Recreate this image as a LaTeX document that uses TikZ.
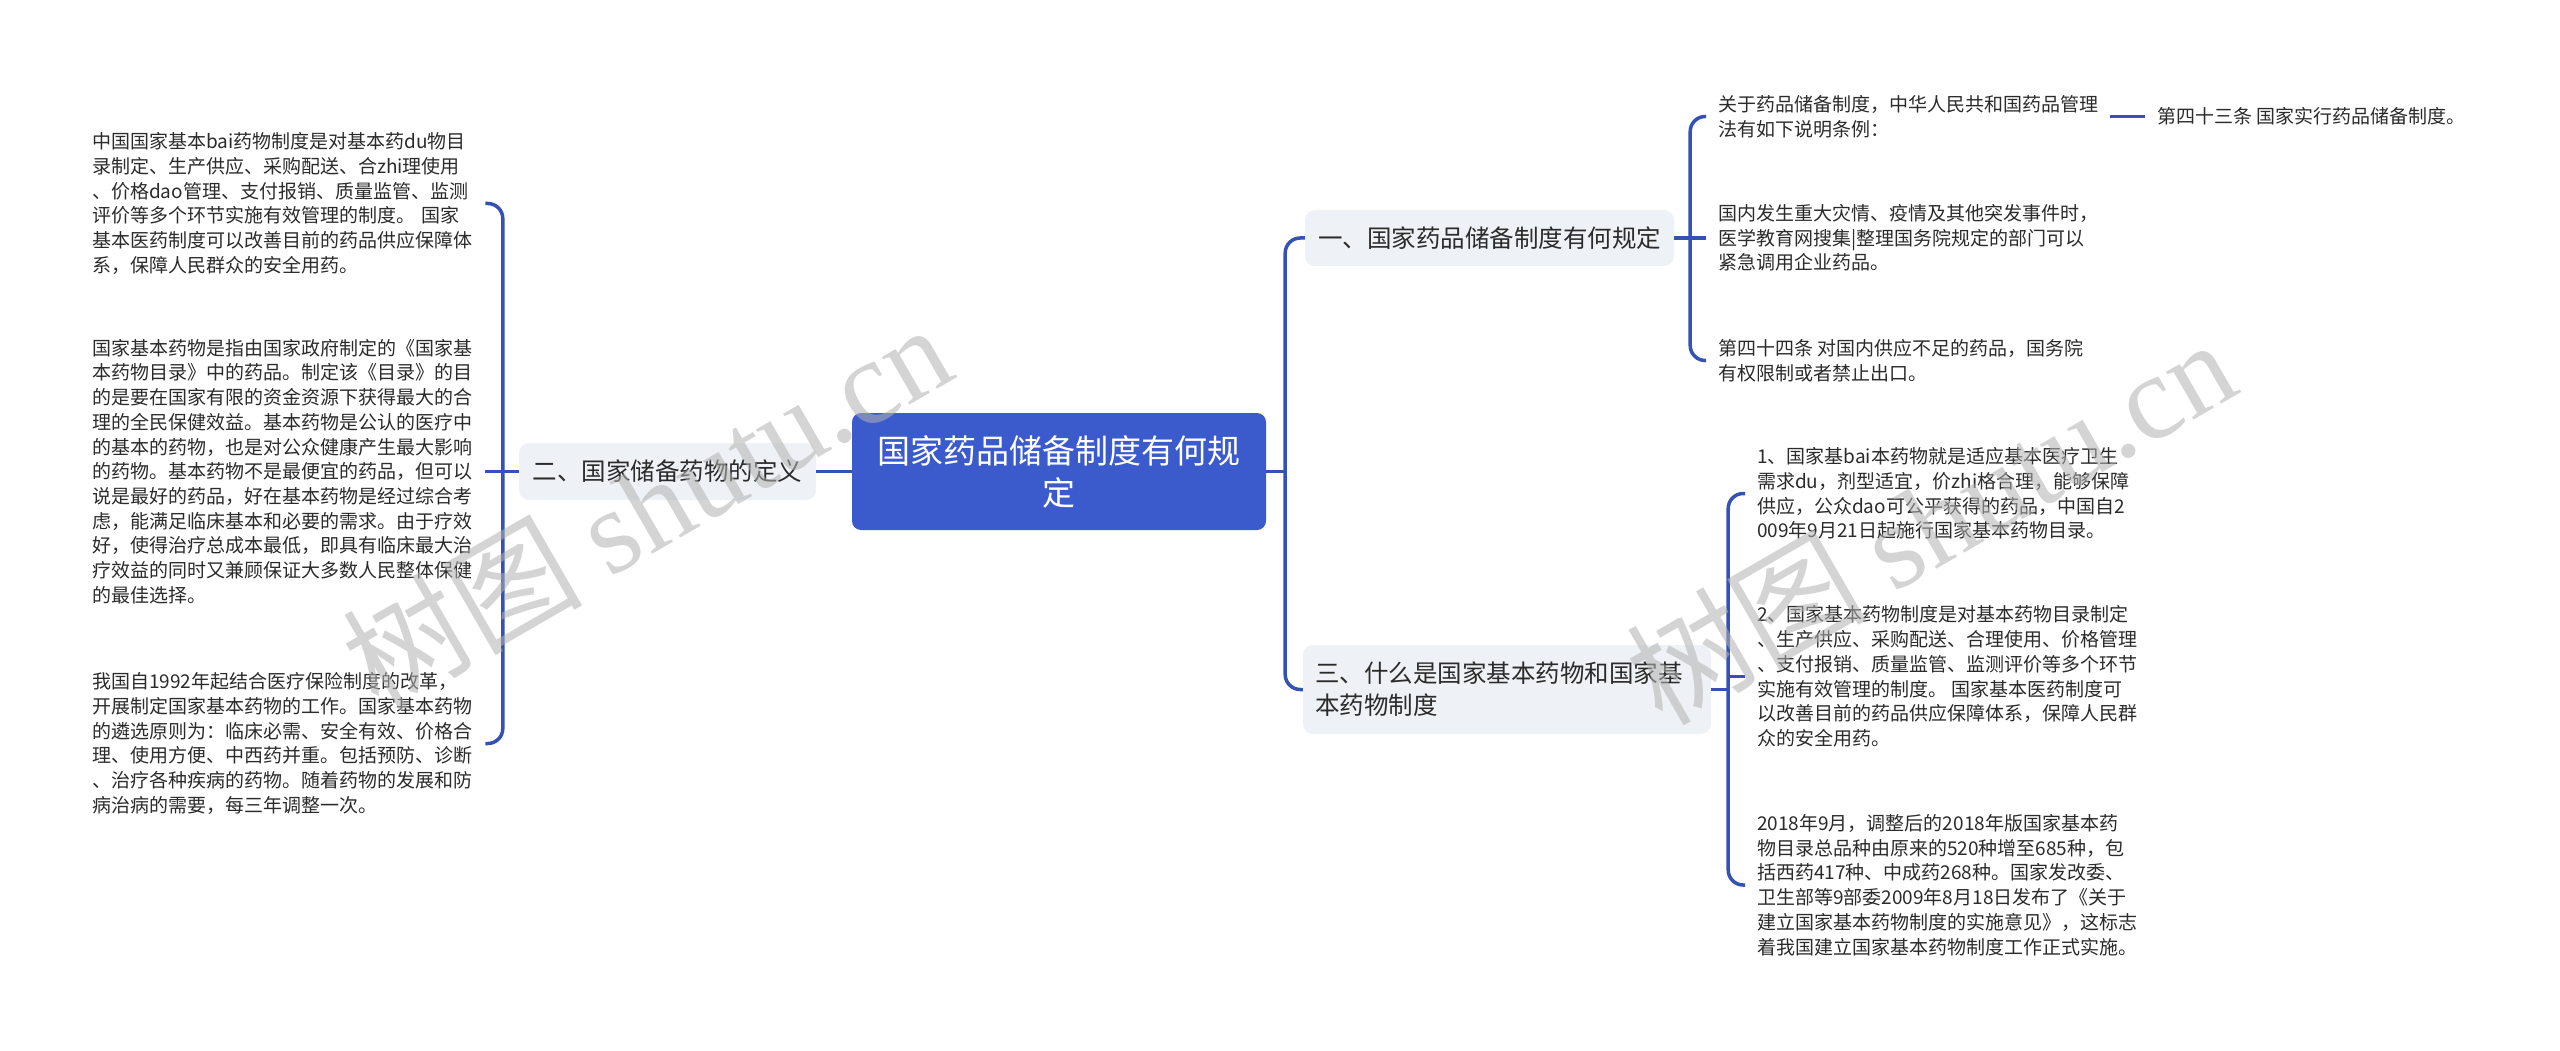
\documentclass[tikz,border=0pt]{standalone}
\usepackage{fontspec}
\setmainfont{Noto Sans CJK SC}
\newfontfamily\wmserif{Liberation Serif}
\definecolor{linec}{HTML}{3352B3}
\definecolor{rootc}{HTML}{3B5BCC}
\definecolor{branchc}{HTML}{EEF1F5}
\definecolor{textc}{HTML}{2B2B2B}
\tikzset{
  conn/.style={draw=linec, line width=3.5pt},
  bracket/.style={conn, rounded corners=15pt},
  rootbox/.style={fill=rootc, draw=none, rounded corners=9pt, text=white,
    font=\fontsize{33}{42}\selectfont, align=center,
    minimum width=414pt, minimum height=117pt, inner sep=0pt},
  branchbox/.style={fill=branchc, draw=none, rounded corners=10pt, text=textc,
    font=\fontsize{24.5}{32}\selectfont, inner sep=0pt},
  leaf/.style={text=textc, font=\fontsize{19}{24.7}\selectfont, align=left,
    inner sep=0pt, anchor=west},
  wmark/.style={text=gray!60, opacity=0.55, rotate=30,
    font=\fontsize{120}{120}\selectfont, inner sep=0pt}
}
\begin{document}
\begin{tikzpicture}[x=1pt,y=-1pt]
\useasboundingbox (0,0) rectangle (2560,1051);
\fill[white] (0,0) rectangle (2560,1051);

% root and branches
\node[rootbox] (root) at (1059,471.5) {国家药品储备制度有何规\\定};
\node[branchbox, minimum width=297pt, minimum height=57pt] (b2) at (667.5,471.5) {二、国家储备药物的定义};
\node[branchbox, minimum width=369pt, minimum height=56pt] (br1) at (1489.5,238) {一、国家药品储备制度有何规定};
\node[branchbox, text width=384pt, inner xsep=12pt, minimum height=89pt, align=left] (br3) at (1507,689.5) {三、什么是国家基本药物和国家基\\本药物制度};

% left leaves
\node[leaf, text width=380pt] (l1) at (92,203.5) {中国国家基本bai药物制度是对基本药du物目\\录制定、生产供应、采购配送、合zhi理使用\\、价格dao管理、支付报销、质量监管、监测\\评价等多个环节实施有效管理的制度。 国家\\基本医药制度可以改善目前的药品供应保障体\\系，保障人民群众的安全用药。};
\node[leaf, text width=380pt] (l2) at (92,471.5) {国家基本药物是指由国家政府制定的《国家基\\本药物目录》中的药品。制定该《目录》的目\\的是要在国家有限的资金资源下获得最大的合\\理的全民保健效益。基本药物是公认的医疗中\\的基本的药物，也是对公众健康产生最大影响\\的药物。基本药物不是最便宜的药品，但可以\\说是最好的药品，好在基本药物是经过综合考\\虑，能满足临床基本和必要的需求。由于疗效\\好，使得治疗总成本最低，即具有临床最大治\\疗效益的同时又兼顾保证大多数人民整体保健\\的最佳选择。};
\node[leaf, text width=380pt] (l3) at (92,743.5) {我国自1992年起结合医疗保险制度的改革，\\开展制定国家基本药物的工作。国家基本药物\\的遴选原则为：临床必需、安全有效、价格合\\理、使用方便、中西药并重。包括预防、诊断\\、治疗各种疾病的药物。随着药物的发展和防\\病治病的需要，每三年调整一次。};

% right leaves of branch 1
\node[leaf] (la) at (1718,116.5) {关于药品储备制度，中华人民共和国药品管理\\法有如下说明条例：};
\node[leaf] (la2) at (2157,116.5) {第四十三条 国家实行药品储备制度。};
\node[leaf] (lb) at (1718,238) {国内发生重大灾情、疫情及其他突发事件时，\\医学教育网搜集|整理国务院规定的部门可以\\紧急调用企业药品。};
\node[leaf] (lc) at (1718,360.5) {第四十四条 对国内供应不足的药品，国务院\\有权限制或者禁止出口。};

% right leaves of branch 3
\node[leaf] (r1) at (1757,493.5) {1、国家基bai本药物就是适应基本医疗卫生\\需求du，剂型适宜，价zhi格合理，能够保障\\供应，公众dao可公平获得的药品，中国自2\\009年9月21日起施行国家基本药物目录。};
\node[leaf] (r2) at (1757,676.5) {2、国家基本药物制度是对基本药物目录制定\\、生产供应、采购配送、合理使用、价格管理\\、支付报销、质量监管、监测评价等多个环节\\实施有效管理的制度。 国家基本医药制度可\\以改善目前的药品供应保障体系，保障人民群\\众的安全用药。};
\node[leaf] (r3) at (1757,885) {2018年9月，调整后的2018年版国家基本药\\物目录总品种由原来的520种增至685种，包\\括西药417种、中成药268种。国家发改委、\\卫生部等9部委2009年8月18日发布了《关于\\建立国家基本药物制度的实施意见》，这标志\\着我国建立国家基本药物制度工作正式实施。};

% connectors: left side
\draw[conn] (root.west) -- (b2.east);
\draw[conn] (b2.west) -- ++(-16,0) coordinate (sl);
\draw[bracket] ([xshift=13pt]l1.east) -| (sl) |- ([xshift=13pt]l3.east);
\draw[conn] ([xshift=13pt]l2.east) -- (l2.east -| sl);

% connectors: right side of root
\draw[conn] (root.east) -- ++(19,0) coordinate (sr);
\draw[bracket] (br1.west) -| (sr) |- (br3.west);

% branch 1 bracket
\draw[conn] (br1.east) -- ++(16,0) coordinate (s1);
\draw[bracket] ([xshift=-12pt]la.west) -| (s1) |- ([xshift=-12pt]lc.west);
\draw[conn] (s1) -- ([xshift=-12pt]lb.west);
\draw[conn] ([xshift=12pt]la.east) -- ([xshift=-12pt]la2.west);

% branch 3 bracket
\draw[conn] (br3.east) -- ++(17,0) coordinate (s3);
\draw[bracket] ([xshift=-12pt]r1.west) -| (s3) |- ([xshift=-12pt]r3.west);
\draw[conn] (r2.west -| s3) -- ([xshift=-12pt]r2.west);

% watermarks
\node[wmark] (wm1) at (646,505) {树图 {\wmserif shutu.cn}};
\node[wmark] (wm2) at (1930,520) {树图 {\wmserif shutu.cn}};
\end{tikzpicture}
\end{document}
